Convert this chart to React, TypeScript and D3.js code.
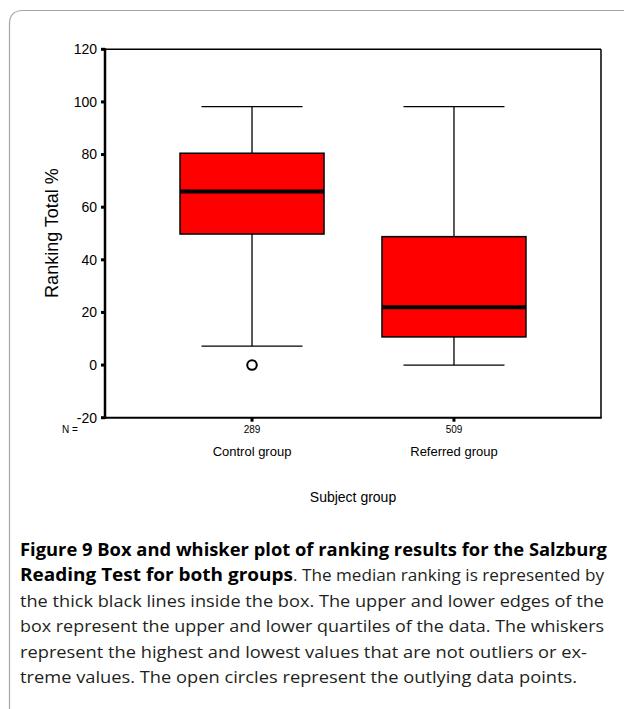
import React from "react";
import * as d3 from "d3";

const categories = ["Control group", "Referred group"];
const counts = ["289", "509"];
const whiskerHigh = [98.2, 98.2];
const q3 = [80.5, 48.8];
const median = [66, 22];
const q1 = [49.8, 10.7];
const whiskerLow = [7.2, 0];
const outliers = [[0], []];
const yTicks = [-20, 0, 20, 40, 60, 80, 100, 120];

const captionLines = [
  { parts: [{ t: "Figure 9 Box and whisker plot of ranking results for the Salzburg", b: true, x0: 20, x1: 607 }] },
  {
    parts: [
      { t: "Reading Test for both groups", b: true, x0: 20, x1: 293 },
      { t: ". The median ranking is represented by", b: false, x0: 293, x1: 604 },
    ],
  },
  { parts: [{ t: "the thick black lines inside the box. The upper and lower edges of the", b: false, x0: 20, x1: 604 }] },
  { parts: [{ t: "box represent the upper and lower quartiles of the data. The whiskers", b: false, x0: 20, x1: 604 }] },
  { parts: [{ t: "represent the highest and lowest values that are not outliers or ex-", b: false, x0: 20, x1: 587 }] },
  { parts: [{ t: "treme values. The open circles represent the outlying data points.", b: false, x0: 20, x1: 577 }] },
];

export default function App() {
  const W = 624;
  const H = 709;
  const left = 105;
  const right = 601;
  const top = 49.3;
  const bottom = 417.7;
  const y = d3.scaleLinear().domain([-20, 120]).range([bottom, top]);
  const x = d3.scalePoint<string>().domain(categories).range([left, right]).padding(0.728);
  const step = x.step();
  const boxW = step * 0.713;
  const capW = step * 0.5;
  const af = "'Liberation Sans', Arial, sans-serif";
  const cf = "'Open Sans', 'Noto Sans', sans-serif";

  return (
    <svg width={W} height={H} style={{ position: "absolute", left: 0, top: 0, background: "#fff" }}>
      <rect x={0} y={0} width={W} height={H} fill="#fff" />
      <path d={`M9.5,${H} V24 Q9.5,10.5 23,10.5 H${W}`} fill="none" stroke="#a6a6a6" strokeWidth={1.2} />

      {/* plot frame */}
      <line x1={left} x2={right} y1={top} y2={top} stroke="#000" strokeWidth={1.5} />
      <line x1={right} x2={right} y1={top} y2={bottom} stroke="#000" strokeWidth={1.5} />
      <line x1={left} x2={left} y1={top - 1} y2={bottom + 1} stroke="#000" strokeWidth={2.5} />
      <line x1={left} x2={right + 0.75} y1={bottom} y2={bottom} stroke="#000" strokeWidth={2} />

      {/* y ticks */}
      {yTicks.map((t) => (
        <g key={t}>
          <rect x={left - 4} y={y(t) - 1.5} width={4} height={3} fill="#000" />
          <text x={left - 8} y={y(t)} dy="0.35em" textAnchor="end" fontFamily={af} fontSize={14} fill="#000">
            {t}
          </text>
        </g>
      ))}

      {/* boxes */}
      {categories.map((c, i) => {
        const cx = x(c) as number;
        return (
          <g key={c}>
            <line x1={cx} x2={cx} y1={y(whiskerHigh[i])} y2={y(q3[i])} stroke="#000" strokeWidth={1.3} />
            <line x1={cx} x2={cx} y1={y(q1[i])} y2={y(whiskerLow[i])} stroke="#000" strokeWidth={1.3} />
            <line x1={cx - capW / 2} x2={cx + capW / 2} y1={y(whiskerHigh[i])} y2={y(whiskerHigh[i])} stroke="#000" strokeWidth={1.3} />
            <line x1={cx - capW / 2} x2={cx + capW / 2} y1={y(whiskerLow[i])} y2={y(whiskerLow[i])} stroke="#000" strokeWidth={1.3} />
            <rect x={cx - boxW / 2} y={y(q3[i])} width={boxW} height={y(q1[i]) - y(q3[i])} fill="#ff0000" stroke="#000" strokeWidth={1.5} />
            <line x1={cx - boxW / 2} x2={cx + boxW / 2} y1={y(median[i])} y2={y(median[i])} stroke="#000" strokeWidth={4} />
            {outliers[i].map((o, j) => (
              <circle key={j} cx={cx} cy={y(o)} r={4.8} fill="#fff" stroke="#000" strokeWidth={2} />
            ))}
            <rect x={cx - 1.5} y={bottom} width={3} height={4} fill="#000" />
            <text x={cx} y={433} textAnchor="middle" fontFamily={af} fontSize={10} fill="#000">
              {counts[i]}
            </text>
            <text x={cx} y={456} textAnchor="middle" fontFamily={af} fontSize={13} fill="#000">
              {c}
            </text>
          </g>
        );
      })}
      <text x={62} y={433} fontFamily={af} fontSize={10} fill="#000">N =</text>

      <text x={353} y={502} textAnchor="middle" fontFamily={af} fontSize={14} fill="#000">Subject group</text>
      <text transform={`translate(58,233) rotate(-90)`} textAnchor="middle" fontFamily={af} fontSize={18} fill="#000">
        Ranking Total %
      </text>

      {/* caption */}
      {captionLines.map((ln, i) => (
        <g key={i}>
          {ln.parts.map((p, j) => (
            <text
              key={j}
              x={p.x0}
              y={556 + i * 25.4}
              fontFamily={cf}
              fontSize={17}
              fontWeight={p.b ? 700 : 400}
              fill={p.b ? "#000" : "#231f20"}
              textLength={p.x1 - p.x0}
              lengthAdjust="spacingAndGlyphs"
            >
              {p.t}
            </text>
          ))}
        </g>
      ))}
    </svg>
  );
}
